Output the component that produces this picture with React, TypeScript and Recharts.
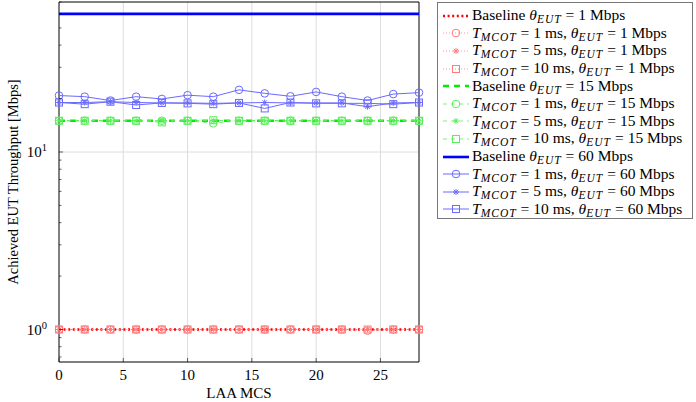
import React from "react";
import {
  CartesianGrid,
  Line,
  LineChart,
  ReferenceArea,
  XAxis,
  YAxis,
} from "recharts";

// LAA MCS values on the x axis
const mcs = [0, 2, 4, 6, 8, 10, 12, 14, 16, 18, 20, 22, 24, 26, 28];

// theta_EUT = 1 Mbps
const base1 = [1, 1, 1, 1, 1, 1, 1, 1, 1, 1, 1, 1, 1, 1, 1];
const t1ms1 = [1, 1, 1, 1, 1, 1, 1, 1, 1, 1, 1, 1, 0.985, 1, 1];
const t5ms1 = [1, 1, 1, 1, 1, 1, 1, 1, 1, 1, 1, 1, 1, 1, 1];
const t10ms1 = [1, 1, 1, 1, 1, 1, 1, 1, 1, 1, 1, 1, 1, 1, 1];

// theta_EUT = 15 Mbps
const base15 = [15, 15, 15, 15, 15, 15, 15, 15, 15, 15, 15, 15, 15, 15, 15];
const t1ms15 = [15, 15, 15, 15, 15, 15, 14.5, 15, 15, 15, 15, 15, 15, 15, 15];
const t5ms15 = [15, 15, 15, 15, 15, 15, 15, 15, 15, 15, 15, 15, 15, 15, 15];
const t10ms15 = [15, 15, 15, 15, 14.7, 15, 15.1, 15, 15, 15, 15, 15, 15, 15, 15];

// theta_EUT = 60 Mbps
const base60 = [60, 60, 60, 60, 60, 60, 60, 60, 60, 60, 60, 60, 60, 60, 60];
const t1ms60 = [20.8, 20.5, 19.5, 20.5, 19.9, 20.9, 20.5, 22.4, 21.4, 20.6, 21.8, 20.5, 19.5, 21.2, 21.6];
const t5ms60 = [19.0, 19.0, 19.2, 19.0, 18.9, 18.9, 18.8, 18.9, 19.0, 18.9, 18.9, 18.9, 18.0, 18.9, 19.0];
const t10ms60 = [19.0, 18.6, 19.2, 18.4, 18.9, 18.8, 18.6, 18.9, 17.6, 19.0, 18.8, 18.8, 18.8, 18.6, 19.0];

const xTicks = [0, 5, 10, 15, 20, 25];
const yTicks = [0.7, 0.8, 0.9, 1, 2, 3, 4, 5, 6, 7, 8, 9, 10, 20, 30, 40, 50, 60, 70];

const data = mcs.map((m, i) => ({
  mcs: m,
  base1: base1[i],
  t1ms1: t1ms1[i],
  t5ms1: t5ms1[i],
  t10ms1: t10ms1[i],
  base15: base15[i],
  t1ms15: t1ms15[i],
  t5ms15: t5ms15[i],
  t10ms15: t10ms15[i],
  base60: base60[i],
  t1ms60: t1ms60[i],
  t5ms60: t5ms60[i],
  t10ms60: t10ms60[i],
}));

type Marker = "none" | "circle" | "star" | "square";

type SeriesDef = {
  key: string;
  color: string;
  width: number;
  dash?: string;
  marker: Marker;
  tms?: number;
  rate: number;
};

const RED = "#ff0000";
const RED_L = "#ff7a7a";
const GREEN = "#00ee00";
const GREEN_L = "#5aee5a";
const BLUE = "#0000ff";
const BLUE_L = "#6a6aff";

const series: SeriesDef[] = [
  { key: "base1", color: RED, width: 2.6, dash: "2 2.6", marker: "none", rate: 1 },
  { key: "t1ms1", color: RED_L, width: 0.8, dash: "1 2", marker: "circle", tms: 1, rate: 1 },
  { key: "t5ms1", color: RED_L, width: 0.8, dash: "1 2", marker: "star", tms: 5, rate: 1 },
  { key: "t10ms1", color: RED_L, width: 0.8, dash: "1 2", marker: "square", tms: 10, rate: 1 },
  { key: "base15", color: GREEN, width: 2.6, dash: "6 5", marker: "none", rate: 15 },
  { key: "t1ms15", color: GREEN_L, width: 0.8, dash: "4 4", marker: "circle", tms: 1, rate: 15 },
  { key: "t5ms15", color: GREEN_L, width: 0.8, dash: "4 4", marker: "star", tms: 5, rate: 15 },
  { key: "t10ms15", color: GREEN_L, width: 0.8, dash: "4 4", marker: "square", tms: 10, rate: 15 },
  { key: "base60", color: BLUE, width: 2.6, marker: "none", rate: 60 },
  { key: "t1ms60", color: BLUE_L, width: 1, marker: "circle", tms: 1, rate: 60 },
  { key: "t5ms60", color: BLUE_L, width: 1, marker: "star", tms: 5, rate: 60 },
  { key: "t10ms60", color: BLUE_L, width: 1, marker: "square", tms: 10, rate: 60 },
];

const FONT = "'Liberation Serif', 'DejaVu Serif', serif";

function drawMarker(kind: Marker, cx: number, cy: number, color: string, key?: string) {
  if (kind === "circle")
    return <circle key={key} cx={cx} cy={cy} r={3.8} fill="none" stroke={color} strokeWidth={1} />;
  if (kind === "square")
    return (
      <rect key={key} x={cx - 3.5} y={cy - 3.5} width={7} height={7} fill="none" stroke={color} strokeWidth={1} />
    );
  if (kind === "star")
    return (
      <g key={key} stroke={color} strokeWidth={1}>
        <line x1={cx - 3} y1={cy} x2={cx + 3} y2={cy} />
        <line x1={cx} y1={cy - 3} x2={cx} y2={cy + 3} />
        <line x1={cx - 2.2} y1={cy - 2.2} x2={cx + 2.2} y2={cy + 2.2} />
        <line x1={cx - 2.2} y1={cy + 2.2} x2={cx + 2.2} y2={cy - 2.2} />
      </g>
    );
  return <g key={key} />;
}

function YTick(props: any) {
  const { x, y, payload } = props;
  const v = payload.value;
  const major = v === 1 || v === 10;
  const ax = x + 4;
  return (
    <g>
      <line x1={ax} y1={y} x2={ax + (major ? 4 : 2.5)} y2={y} stroke="#000" strokeWidth={0.6} />
      {major && (
        <text x={x - 8} y={y + 5} textAnchor="end" fontFamily={FONT} fontSize={15} fill="#000">
          10
          <tspan dy={-6} fontSize={10.5}>
            {v === 1 ? "0" : "1"}
          </tspan>
        </text>
      )}
    </g>
  );
}

// mirrored ticks on the right side of the box, no labels
function YTickRight(props: any) {
  const { x, y, payload } = props;
  const v = payload.value;
  const major = v === 1 || v === 10;
  const ax = x - 4;
  return <line x1={ax} y1={y} x2={ax - (major ? 4 : 2.5)} y2={y} stroke="#000" strokeWidth={0.6} />;
}

function XTick(props: any) {
  const { x, y, payload } = props;
  const ay = y - 6;
  return (
    <g>
      <line x1={x} y1={ay} x2={x} y2={ay - 4} stroke="#000" strokeWidth={0.6} />
      <text x={x} y={y + 12} textAnchor="middle" fontFamily={FONT} fontSize={15} fill="#000">
        {payload.value}
      </text>
    </g>
  );
}

function XTickTop(props: any) {
  const { x, y } = props;
  const ay = y + 4;
  return <line x1={x} y1={ay} x2={x} y2={ay + 4} stroke="#000" strokeWidth={0.6} />;
}

const subStyle: React.CSSProperties = {
  fontSize: 11.5,
  fontStyle: "italic",
  position: "relative",
  top: 3,
  letterSpacing: 1,
};

const eqStyle: React.CSSProperties = { margin: "0 4px" };

function LegendText({ s }: { s: SeriesDef }) {
  const theta = (
    <>
      <i>θ</i>
      <span style={subStyle}>EUT</span>
    </>
  );
  if (s.tms === undefined)
    return (
      <span>
        Baseline {theta}
        <span style={eqStyle}>=</span>
        {s.rate} Mbps
      </span>
    );
  return (
    <span>
      <i>T</i>
      <span style={subStyle}>MCOT</span>
      <span style={eqStyle}>=</span>
      {s.tms} ms, {theta}
      <span style={eqStyle}>=</span>
      {s.rate} Mbps
    </span>
  );
}

function LegendBox() {
  return (
    <div
      style={{
        position: "absolute",
        left: 437,
        top: 2,
        width: 256,
        height: 217,
        border: "1px solid #777",
        background: "#fff",
        padding: "4px 0 0 5px",
        fontFamily: FONT,
        fontSize: 15.5,
        color: "#000",
        boxSizing: "border-box",
      }}
    >
      {series.map((s) => (
        <div key={s.key} style={{ display: "flex", alignItems: "center", height: 17.6, whiteSpace: "nowrap", lineHeight: "17px" }}>
          <svg width={26} height={12} style={{ flex: "none", marginRight: 3 }}>
            <line
              x1={0}
              y1={6}
              x2={26}
              y2={6}
              stroke={s.color}
              strokeWidth={s.marker === "none" ? 2.6 : s.width}
              strokeDasharray={s.dash}
            />
            {drawMarker(s.marker, 13, 6, s.color)}
          </svg>
          <LegendText s={s} />
        </div>
      ))}
    </div>
  );
}

export default function App() {
  return (
    <div style={{ position: "absolute", left: 0, top: 0, width: 696, height: 402, background: "#fff" }}>
      <LineChart width={696} height={402} data={data} margin={{ top: 2, right: 277, bottom: 0, left: 0 }}>
        <CartesianGrid
          stroke="#dcdcdc"
          strokeWidth={1}
          verticalValues={[5, 10, 15, 20, 25]}
          horizontalValues={[1, 10]}
        />
        <XAxis
          dataKey="mcs"
          type="number"
          domain={[0, 28]}
          ticks={xTicks}
          height={40}
          axisLine={false}
          tickLine={false}
          tickSize={0}
          tickMargin={6}
          tick={<XTick />}
          label={{ value: "LAA MCS", position: "insideBottom", offset: 4, fontFamily: FONT, fontSize: 15, fill: "#000" }}
        />
        <XAxis
          xAxisId="top"
          orientation="top"
          dataKey="mcs"
          type="number"
          domain={[0, 28]}
          ticks={xTicks}
          height={0}
          axisLine={false}
          tickLine={false}
          tickSize={0}
          tickMargin={4}
          tick={<XTickTop />}
        />
        <YAxis
          scale="log"
          type="number"
          domain={[0.656, 70]}
          allowDataOverflow
          ticks={yTicks}
          width={59}
          axisLine={false}
          tickLine={false}
          tickSize={0}
          tickMargin={4}
          tick={<YTick />}
          interval={0}
          label={{
            value: "Achieved EUT Throughput [Mbps]",
            angle: -90,
            position: "insideLeft",
            offset: 13,
            style: { textAnchor: "middle", fontFamily: FONT, fontSize: 14.5, fill: "#000" },
          }}
        />
        <YAxis
          yAxisId="right"
          orientation="right"
          scale="log"
          type="number"
          domain={[0.656, 70]}
          allowDataOverflow
          ticks={yTicks}
          width={0}
          axisLine={false}
          tickLine={false}
          tickSize={0}
          tickMargin={4}
          tick={<YTickRight />}
          interval={0}
        />
        <ReferenceArea x1={0} x2={28} y1={0.656} y2={70} fill="none" stroke="#000" strokeWidth={1} ifOverflow="visible" />
        {series.map((s) => (
          <Line
            key={s.key}
            dataKey={s.key}
            stroke={s.color}
            strokeWidth={s.width}
            strokeDasharray={s.dash}
            isAnimationActive={false}
            activeDot={false}
            dot={
              s.marker === "none"
                ? false
                : (p: any) => drawMarker(s.marker, p.cx, p.cy, s.color, `${s.key}-${p.index}`)
            }
          />
        ))}
      </LineChart>
      <LegendBox />
    </div>
  );
}
